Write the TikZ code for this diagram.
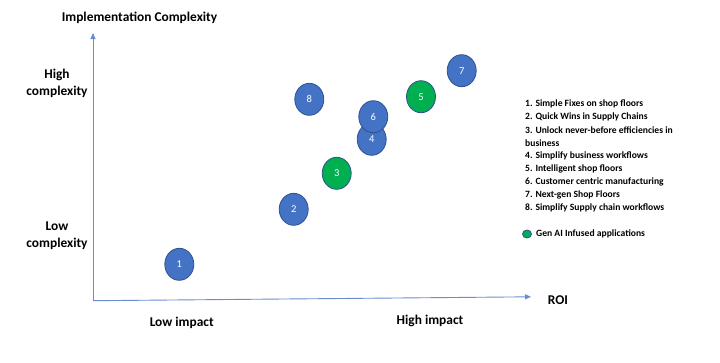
\documentclass[tikz,border=0pt]{standalone}
\usepackage{fontspec}
\setmainfont{Carlito}
\usetikzlibrary{arrows.meta,shapes.geometric}
\definecolor{ptblue}{HTML}{4472C4}
\definecolor{ptedge}{HTML}{2F528F}
\definecolor{ptgreen}{HTML}{00B050}
\definecolor{axisblue}{HTML}{4472C4}
\tikzset{
  pt/.style={ellipse,draw=ptedge,line width=0.8pt,fill=ptblue,minimum width=29pt,minimum height=32pt,inner sep=0pt,text=white,font=\fontsize{10.5}{12}\selectfont},
  ptg/.style={pt,fill=ptgreen},
  axis/.style={draw=axisblue!80,line width=0.9pt,-{Triangle[length=6pt,width=5pt]}},
  ttlstyle/.style={font=\bfseries\fontsize{13.4}{16}\selectfont,align=center},
  lab/.style={font=\bfseries\fontsize{13.4}{17}\selectfont,align=center},
  leg/.style={anchor=west,inner sep=0pt,font=\bfseries\fontsize{9.6}{11}\selectfont},
}
\begin{document}
\begin{tikzpicture}[x=1pt,y=-1pt]
\useasboundingbox[fill=white] (0,0) rectangle (720,362);
\coordinate (o) at (93,300.7);
\coordinate (ytop) at (93,33);
\coordinate (xend) at (531,296.8);
\draw[axis] (o) -- (ytop);
\draw[axis] (o) -- (xend);
\node[ttlstyle] (ttl) at (139.5,17.5) {Implementation Complexity};
\node[lab] (hc) at (57,83.5) {High\\complexity};
\node[lab] (lc) at (57,236) {Low\\complexity};
\node[lab] (li) at (181.7,322.7) {Low impact};
\node[lab] (hi) at (430,321) {High impact};
\node[lab] (roi) at (558,300) {ROI};
\node[pt] (p1) at (179.3,264.3) {1};
\node[pt] (p2) at (293.7,209.3) {2};
\node[ptg] (p3) at (336.7,173.3) {3};
\node[pt] (p4) at (371.7,139.3) {4};
\node[pt] (p6) at (373.3,116.7) {6};
\node[pt] (p8) at (309.3,99.3) {8};
\node[ptg] (p5) at (421,96.7) {5};
\node[pt] (p7) at (461.7,70.7) {7};
\node[leg] (l1) at (525,104.3) {1. Simple Fixes on shop floors};
\node[leg] (l2) at (525,117.3) {2. Quick Wins in Supply Chains};
\node[leg] (l3) at (525,130.3) {3. Unlock never-before efficiencies in};
\node[leg] (l3b) at (525,143.3) {business};
\node[leg] (l4) at (525,156.3) {4. Simplify business workflows};
\node[leg] (l5) at (525,169.3) {5. Intelligent shop floors};
\node[leg] (l6) at (525,182.3) {6. Customer centric manufacturing};
\node[leg] (l7) at (525,195.3) {7. Next-gen Shop Floors};
\node[leg] (l8) at (525,208.3) {8. Simplify Supply chain workflows};
\node[ellipse,draw=ptedge,line width=0.8pt,fill=ptgreen,minimum width=9pt,minimum height=8pt,inner sep=0pt] (gd) at (527,234) {};
\node[leg] (gl) at (536,233.5) {Gen AI Infused applications};
\end{tikzpicture}
\end{document}
